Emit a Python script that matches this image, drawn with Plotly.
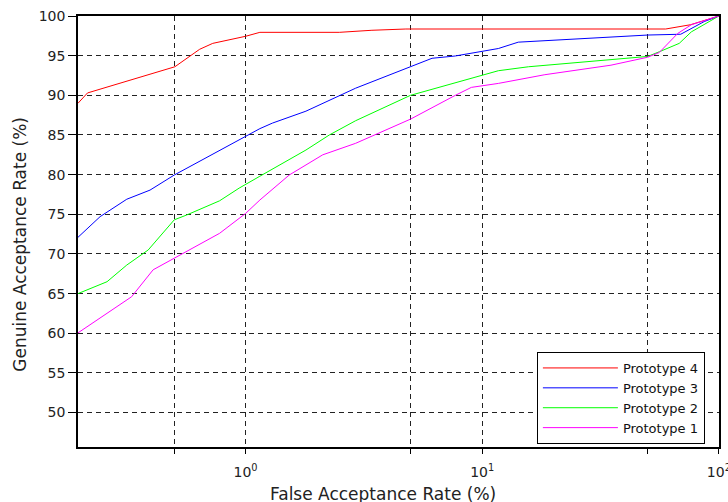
import plotly.graph_objects as go
import math

# Data (x: FAR %, y: GAR %)
p4_x = [0.196, 0.215, 0.503, 0.64, 0.727, 1.0, 1.15, 2.49, 3.42, 4.76, 59.6, 75.9, 100]
p4_y = [89.0, 90.3, 93.6, 95.8, 96.55, 97.44, 97.94, 97.94, 98.2, 98.36, 98.36, 98.9, 100]

p3_x = [0.196, 0.243, 0.315, 0.395, 0.5, 1.0, 1.15, 1.30, 1.80, 2.92, 4.98, 6.14, 7.7, 10, 11.7, 14.2, 28.9, 50, 69, 86.7, 100]
p3_y = [72.1, 74.7, 76.9, 78.05, 79.95, 84.8, 85.8, 86.5, 88.0, 90.9, 93.6, 94.67, 94.96, 95.5, 95.9, 96.7, 97.2, 97.6, 97.7, 99.3, 100]

p2_x = [0.196, 0.26, 0.315, 0.388, 0.5, 0.563, 0.777, 0.94, 1.15, 1.8, 2.26, 2.92, 4.98, 6.55, 10, 11.7, 15.7, 50, 56.1, 68, 76.5, 100]
p2_y = [65.0, 66.5, 68.6, 70.5, 74.3, 74.9, 76.7, 78.3, 79.8, 83.1, 85.0, 86.8, 90.0, 91.0, 92.6, 93.1, 93.6, 94.9, 95.5, 96.55, 98.0, 100]

p1_x = [0.196, 0.26, 0.33, 0.407, 0.5, 0.58, 0.777, 1.0, 1.15, 1.53, 2.12, 2.92, 4.98, 7.7, 9.0, 11.7, 18.4, 35, 50, 56, 67, 76.5, 100]
p1_y = [60.05, 62.5, 64.6, 68.0, 69.45, 70.5, 72.6, 75.1, 76.8, 79.95, 82.5, 83.95, 87.0, 90.0, 91.0, 91.5, 92.6, 93.8, 94.8, 95.4, 97.8, 98.9, 100]

series_names = ["Prototype 4", "Prototype 3", "Prototype 2", "Prototype 1"]
series_colors = ["#ff0000", "#0000ff", "#00ff00", "#ff00ff"]
series_x = [p4_x, p3_x, p2_x, p1_x]
series_y = [p4_y, p3_y, p2_y, p1_y]

x_major_ticks = [1, 10, 100]
x_major_text = ["10<sup>0</sup>", "10<sup>1</sup>", "10<sup>2</sup>"]
x_minor_ticks = [0.5, 5, 50]
y_tickvals = [50, 55, 60, 65, 70, 75, 80, 85, 90, 95, 100]

FONT = "DejaVu Sans"

fig = go.Figure()
for name, color, xs, ys in zip(series_names, series_colors, series_x, series_y):
    fig.add_trace(go.Scatter(x=xs, y=ys, mode="lines", name=name,
                             line=dict(color=color, width=1)))

fig.update_layout(
    width=728, height=502,
    margin=dict(l=78, r=9, t=16, b=55),
    paper_bgcolor="white", plot_bgcolor="white",
    font=dict(family=FONT, color="#222", size=13),
    showlegend=True,
    legend=dict(
        x=0.978, y=0.007, xanchor="right", yanchor="bottom",
        bordercolor="black", borderwidth=1, bgcolor="white",
        font=dict(family=FONT, size=13, color="#111"),
        itemwidth=75, tracegroupgap=0,
    ),
    annotations=[
        dict(text="False Acceptance Rate (%)", xref="paper", yref="paper",
             x=0.476, y=-0.108, xanchor="center", yanchor="middle",
             showarrow=False, font=dict(family=FONT, size=17, color="#222")),
        dict(text="Genuine Acceptance Rate (%)", xref="paper", yref="paper",
             x=-0.09, y=0.47, xanchor="center", yanchor="middle", textangle=-90,
             showarrow=False, font=dict(family=FONT, size=17, color="#222")),
    ],
)

grid_style = dict(showgrid=True, gridcolor="#222", griddash="5px,4px", gridwidth=1)

fig.update_xaxes(
    type="log", range=[math.log10(0.196), 2.0005], automargin=False,
    tickmode="array", tickvals=x_major_ticks, ticktext=x_major_text,
    ticks="outside", ticklen=5, tickcolor="black", ticklabelstandoff=6,
    ticklabeloverflow="allow",
    minor=dict(tickmode="array", tickvals=x_minor_ticks, ticks="outside",
               ticklen=5, tickcolor="black", **grid_style),
    showline=True, linecolor="black", linewidth=1.5, mirror=True,
    zeroline=False, tickfont=dict(size=14, color="#222"),
    **grid_style,
)
fig.update_yaxes(
    range=[45.66, 100], automargin=False,
    tickmode="array", tickvals=y_tickvals,
    ticks="outside", ticklen=8, tickcolor="black",
    showline=True, linecolor="black", linewidth=1.5, mirror=True,
    zeroline=False, tickfont=dict(size=14, color="#222"),
    **grid_style,
)

fig.write_html("out.html", config={"displayModeBar": False},
               post_script="document.body.style.margin='0';")
